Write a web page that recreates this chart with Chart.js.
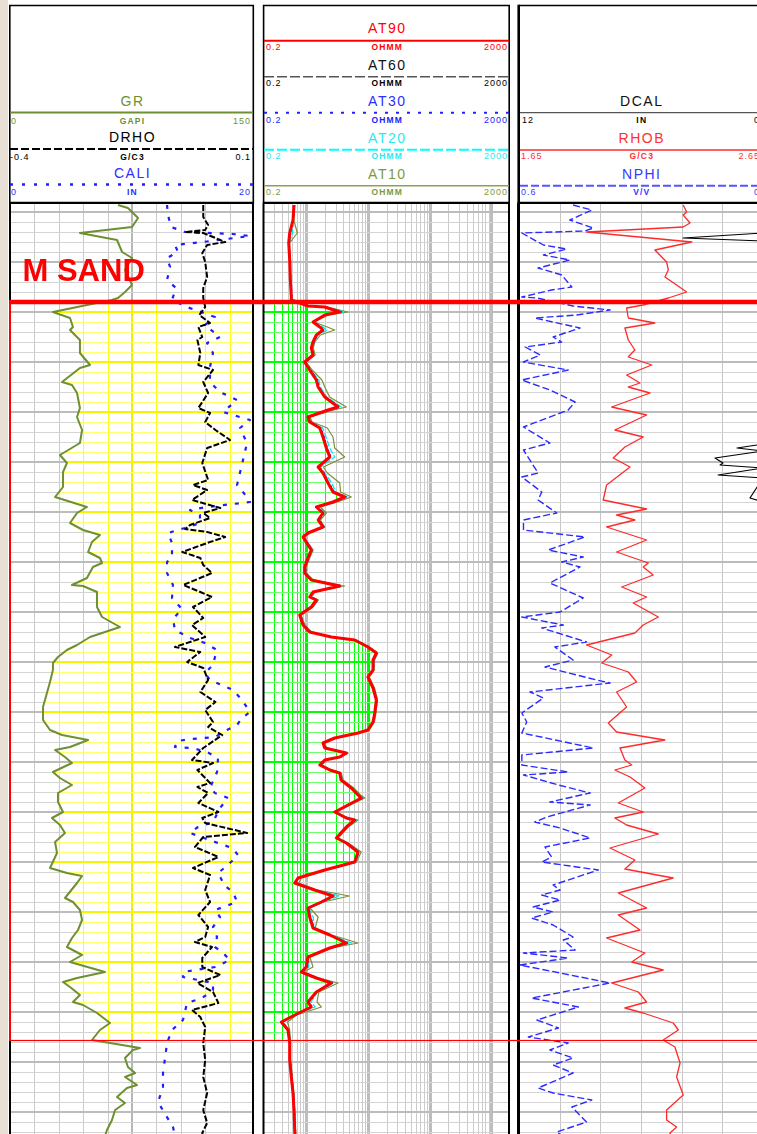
<!DOCTYPE html>
<html>
<head>
<meta charset="utf-8">
<title>M SAND well log</title>
<script src="https://cdn.jsdelivr.net/npm/chart.js@4.4.0/dist/chart.umd.min.js"></script>
<style>
  html, body { margin: 0; padding: 0; background: #fff; overflow: hidden; width: 757px; height: 1134px; }
  #strip { position: absolute; left: 0; top: 0; width: 8px; height: 1134px; background: #e8e0d4; }
  canvas { position: absolute; top: 204px; }
  #c1 { left: 0; }
  #c2 { left: 258px; }
  #c3 { left: 514px; }
  svg { position: absolute; left: 0; top: 0; }
  #zoneLabel { z-index: 5; pointer-events: none; }
</style>
</head>
<body>
<div id="strip"></div>

<svg id="hdr" width="770" height="206" font-family="'Liberation Sans', Arial, sans-serif">
  <!-- track frames -->
  <g fill="none" stroke="#000" stroke-width="1.6">
    <path d="M9.8 204 V5.5 H253.3 V204"/>
    <path d="M263.6 204 V5.5 H509.2 V204"/>
    <path d="M519 5.5 H770"/>
  </g>
  <path d="M518.7 204 V4.7" stroke="#000" stroke-width="2.6"/>
  <path d="M9 203 H254 M262.8 203 H510 M517.4 203 H770" stroke="#000" stroke-width="2.4"/>

  <!-- track 1 curve headers -->
  <g text-anchor="middle" font-size="14" letter-spacing="1.5">
    <text x="132.5" y="106" fill="#6f9030">GR</text>
    <text x="132.5" y="142" fill="#000">DRHO</text>
    <text x="132.5" y="178" fill="#2e2eff">CALI</text>
  </g>
  <path d="M10 112.5 H253" stroke="#6f9030" stroke-width="2"/>
  <path d="M10 149 H253" stroke="#000" stroke-width="2" stroke-dasharray="8 3"/>
  <path d="M10 184.5 H253" stroke="#1e1eff" stroke-width="2.5" stroke-dasharray="3 9"/>
  <g font-size="9" letter-spacing="1">
    <text x="11" y="123.5" fill="#6f9030">0</text>
    <text x="251" y="123.5" fill="#6f9030" text-anchor="end">150</text>
    <text x="10" y="159.5" fill="#000">-0.4</text>
    <text x="251" y="159.5" fill="#000" text-anchor="end">0.1</text>
    <text x="11" y="195" fill="#2e2eff">0</text>
    <text x="251" y="195" fill="#2e2eff" text-anchor="end">20</text>
  </g>
  <g font-size="8.5" font-weight="bold" text-anchor="middle" letter-spacing="1.2">
    <text x="132.5" y="123.5" fill="#6f9030">GAPI</text>
    <text x="132.5" y="159.5" fill="#000">G/C3</text>
    <text x="132.5" y="195" fill="#2e2eff">IN</text>
  </g>

  <!-- track 2 curve headers -->
  <g text-anchor="middle" font-size="14" letter-spacing="1.5">
    <text x="387.3" y="33" fill="#ff0000">AT90</text>
    <text x="387.3" y="70" fill="#111">AT60</text>
    <text x="387.3" y="106" fill="#2e2eff">AT30</text>
    <text x="387.3" y="142.5" fill="#2ee8ee">AT20</text>
    <text x="387.3" y="179.3" fill="#7d9a3a">AT10</text>
  </g>
  <path d="M264 40.7 H509" stroke="#ff0000" stroke-width="2"/>
  <path d="M264 76.7 H509" stroke="#555" stroke-width="1.6" stroke-dasharray="10 3"/>
  <path d="M264 112.7 H509" stroke="#2020ff" stroke-width="2" stroke-dasharray="3 8"/>
  <path d="M264 149.7 H509" stroke="#00ffff" stroke-width="2" stroke-dasharray="10 3"/>
  <path d="M264 185.7 H509" stroke="#8fa050" stroke-width="1.6"/>
  <g font-size="9" letter-spacing="1">
    <text x="266" y="50" fill="#ff0000">0.2</text>
    <text x="508" y="50" fill="#ff0000" text-anchor="end">2000</text>
    <text x="266" y="86" fill="#000">0.2</text>
    <text x="508" y="86" fill="#000" text-anchor="end">2000</text>
    <text x="266" y="122.5" fill="#2020ff">0.2</text>
    <text x="508" y="122.5" fill="#2020ff" text-anchor="end">2000</text>
    <text x="266" y="159" fill="#2ee8ee">0.2</text>
    <text x="508" y="159" fill="#2ee8ee" text-anchor="end">2000</text>
    <text x="266" y="195.3" fill="#7d9a3a">0.2</text>
    <text x="508" y="195.3" fill="#7d9a3a" text-anchor="end">2000</text>
  </g>
  <g font-size="8.5" font-weight="bold" text-anchor="middle" letter-spacing="1.2">
    <text x="387.3" y="50" fill="#ff0000">OHMM</text>
    <text x="387.3" y="86" fill="#000">OHMM</text>
    <text x="387.3" y="122.5" fill="#2020ff">OHMM</text>
    <text x="387.3" y="159" fill="#2ee8ee">OHMM</text>
    <text x="387.3" y="195.3" fill="#7d9a3a">OHMM</text>
  </g>

  <!-- track 3 curve headers -->
  <g text-anchor="middle" font-size="14" letter-spacing="1.5">
    <text x="641.8" y="106" fill="#111">DCAL</text>
    <text x="641.8" y="142.5" fill="#ff3030">RHOB</text>
    <text x="641.8" y="178.5" fill="#3838ff">NPHI</text>
  </g>
  <path d="M520 112.7 H770" stroke="#555" stroke-width="1.3"/>
  <path d="M520 150 H770" stroke="#ff6060" stroke-width="2"/>
  <path d="M520 185.7 H770" stroke="#5555ff" stroke-width="2" stroke-dasharray="8 3"/>
  <g font-size="9" letter-spacing="1">
    <text x="522" y="122.5" fill="#000">12</text>
    <text x="760" y="122.5" fill="#000" text-anchor="end">0</text>
    <text x="521" y="159" fill="#ff3030">1.65</text>
    <text x="760" y="159" fill="#ff3030" text-anchor="end">2.65</text>
    <text x="521" y="195" fill="#3838ff">0.6</text>
    <text x="760" y="195" fill="#3838ff" text-anchor="end">0</text>
  </g>
  <g font-size="8.5" font-weight="bold" text-anchor="middle" letter-spacing="1.2">
    <text x="641.8" y="122.5" fill="#000">IN</text>
    <text x="641.8" y="159" fill="#ff3030">G/C3</text>
    <text x="641.8" y="195" fill="#3838ff">V/V</text>
  </g>
</svg>

<canvas id="c1" width="258" height="940"></canvas>
<canvas id="c2" width="256" height="940"></canvas>
<canvas id="c3" width="256" height="940"></canvas>

<svg id="zoneLabel" width="260" height="300">
  <text x="22.5" y="281" fill="#ff0000" font-family="'Liberation Sans', Arial, sans-serif" font-weight="bold" font-size="31">M SAND</text>
</svg>

<script>
// Depth window (ft) and the M SAND zone top / base
const DEPTH_TOP = 4998.4;
const DEPTH_BASE = 5186.4;
const ZONE_TOP = 5018.0;
const ZONE_BASE = 5165.7;

// Track 1: gamma ray (GAPI)
const GR_DEPTH = [4998.6, 4999.2, 5000.6, 5001.2, 5003.0, 5004.2, 5005.6, 5008.0, 5009.2, 5011.6,
  5014.6, 5016.0, 5017.2, 5017.6, 5018.8, 5020.0, 5021.2, 5023.0, 5023.6, 5025.6,
  5028.2, 5030.6, 5031.2, 5034.0, 5034.6, 5036.2, 5039.2, 5041.0, 5043.6, 5046.2,
  5048.6, 5050.2, 5052.0, 5055.0, 5057.0, 5059.0, 5060.2, 5062.2, 5063.6, 5064.6,
  5066.0, 5068.0, 5069.2, 5070.2, 5071.0, 5073.2, 5074.6, 5074.8, 5076.0, 5079.0,
  5081.0, 5083.0, 5084.0, 5085.0, 5086.6, 5087.6, 5089.0, 5090.2, 5091.6, 5094.0,
  5096.2, 5099.0, 5101.6, 5103.6, 5104.6, 5105.6, 5107.0, 5107.6, 5109.0, 5110.2,
  5112.0, 5113.2, 5114.6, 5116.2, 5118.0, 5120.0, 5121.2, 5122.6, 5124.2, 5126.0,
  5128.2, 5131.2, 5132.2, 5132.8, 5134.2, 5137.2, 5138.0, 5139.6, 5141.6, 5143.6,
  5145.2, 5147.0, 5148.6, 5150.0, 5152.0, 5153.2, 5154.0, 5155.0, 5156.6, 5158.0,
  5158.6, 5160.2, 5162.2, 5163.6, 5165.6, 5167.2, 5167.6, 5169.2, 5171.0, 5172.2,
  5173.0, 5174.6, 5175.2, 5177.0, 5178.2, 5179.6, 5181.6, 5183.6, 5185.6];
const GR = [66.4, 72.5, 76.9, 78.7, 75.0, 43.0, 65.8, 68.9, 75.0, 70.7,
  75.0, 70.7, 66.4, 62.7, 44.3, 26.4, 36.9, 38.7, 36.9, 43.0,
  43.0, 49.2, 43.0, 32.0, 38.1, 41.2, 43.0, 41.2, 44.3, 43.0,
  30.7, 35.0, 32.6, 32.6, 27.7, 47.3, 41.2, 36.9, 44.9, 55.3,
  50.4, 48.0, 55.3, 56.6, 51.0, 47.3, 38.1, 44.9, 53.5, 53.5,
  56.6, 67.6, 58.4, 49.2, 41.2, 35.0, 29.5, 26.4, 26.4, 24.6,
  22.7, 20.3, 20.3, 24.6, 32.0, 48.0, 36.9, 27.7, 33.8, 38.1,
  26.4, 30.7, 38.1, 29.5, 29.5, 32.6, 25.8, 30.7, 33.8, 27.7,
  28.9, 24.6, 35.0, 44.3, 41.2, 33.8, 38.7, 43.0, 44.3, 41.8,
  38.1, 35.0, 44.3, 36.9, 58.4, 41.2, 32.6, 36.9, 43.0, 38.7,
  44.9, 53.5, 61.5, 55.3, 50.4, 79.9, 75.6, 70.7, 72.5, 76.9,
  70.7, 78.1, 71.9, 65.8, 70.7, 64.6, 62.7, 59.6, 57.6];

// Track 1: density correction (G/C3)
const DRHO_DEPTH = [4998.6, 5001.0, 5002.6, 5003.6, 5004.0, 5004.2, 5006.0, 5006.6, 5008.2, 5010.0,
  5013.0, 5015.2, 5017.2, 5019.0, 5020.6, 5022.2, 5023.0, 5025.0, 5025.6, 5028.2,
  5030.6, 5031.6, 5034.0, 5036.2, 5039.2, 5040.2, 5042.0, 5043.6, 5045.6, 5047.2,
  5050.2, 5053.6, 5054.6, 5055.6, 5057.6, 5059.2, 5060.2, 5061.2, 5062.6, 5063.4,
  5064.0, 5065.0, 5066.2, 5068.0, 5069.2, 5070.6, 5072.2, 5074.6, 5076.0, 5077.0,
  5079.0, 5081.2, 5082.6, 5085.0, 5087.0, 5088.0, 5090.0, 5091.2, 5093.6, 5096.0,
  5098.0, 5099.6, 5102.0, 5103.0, 5104.6, 5107.2, 5109.6, 5110.2, 5111.6, 5114.2,
  5115.0, 5116.2, 5118.2, 5120.0, 5121.2, 5122.2, 5124.2, 5125.0, 5127.0, 5129.0,
  5131.2, 5132.6, 5135.6, 5138.0, 5140.6, 5143.0, 5145.0, 5146.0, 5147.0, 5149.2,
  5151.0, 5152.6, 5154.2, 5156.0, 5158.2, 5159.6, 5161.0, 5163.0, 5166.2, 5169.6,
  5173.0, 5176.2, 5179.6, 5182.2, 5184.2, 5185.6];
const DRHO = [-0.004, -0.004, 0.006, 0.000, -0.041, -0.004, 0.041, 0.004, -0.006, 0.000,
  0.004, -0.004, -0.004, 0.000, -0.012, 0.010, -0.014, -0.006, -0.016, -0.010,
  -0.014, 0.016, -0.004, 0.006, -0.014, 0.010, 0.000, 0.021, 0.051, 0.004,
  -0.006, 0.006, -0.025, 0.004, -0.027, 0.031, -0.004, 0.010, -0.031, -0.041,
  0.004, 0.041, 0.004, -0.047, -0.010, -0.004, 0.014, -0.045, -0.010, 0.014,
  -0.025, -0.004, -0.027, 0.000, -0.062, -0.010, -0.037, -0.004, 0.006, -0.010,
  0.021, 0.000, 0.016, 0.006, 0.035, -0.004, -0.027, 0.016, -0.016, 0.010,
  -0.016, 0.006, -0.014, 0.027, -0.006, 0.000, 0.086, -0.004, -0.021, 0.027,
  -0.025, 0.010, 0.000, 0.010, -0.014, 0.006, 0.000, -0.021, 0.014, -0.006,
  -0.006, 0.031, -0.016, 0.016, 0.027, -0.027, -0.010, 0.000, -0.004, 0.000,
  -0.004, 0.004, -0.004, 0.004, -0.006, -0.002];

// Track 1: caliper (IN)
const CALI_DEPTH = [4998.6, 5000.6, 5003.0, 5004.0, 5004.4, 5004.8, 5006.0, 5006.6, 5008.0, 5009.2,
  5011.0, 5013.6, 5015.2, 5017.6, 5019.0, 5021.0, 5022.6, 5025.0, 5026.2, 5028.2,
  5031.0, 5034.0, 5036.0, 5037.6, 5040.0, 5041.6, 5043.2, 5046.2, 5049.6, 5054.6,
  5057.0, 5058.0, 5059.0, 5059.6, 5060.6, 5062.2, 5063.2, 5064.2, 5066.2, 5069.0,
  5070.0, 5072.2, 5074.6, 5077.2, 5079.4, 5081.4, 5083.6, 5085.2, 5086.2, 5087.6,
  5089.0, 5090.6, 5092.2, 5093.6, 5095.6, 5097.6, 5100.0, 5101.2, 5102.6, 5103.6,
  5105.0, 5105.4, 5105.8, 5107.0, 5107.2, 5108.0, 5109.2, 5112.0, 5115.2, 5116.2,
  5117.2, 5119.2, 5122.0, 5123.0, 5124.2, 5126.2, 5127.2, 5128.6, 5130.6, 5132.2,
  5134.8, 5136.0, 5138.0, 5139.6, 5141.0, 5143.0, 5145.0, 5147.0, 5148.2, 5149.6,
  5151.0, 5152.0, 5153.0, 5154.2, 5155.6, 5157.2, 5158.2, 5161.6, 5163.6, 5166.2,
  5169.2, 5172.2, 5175.2, 5178.0, 5180.4, 5183.0, 5185.6];
const CALI = [12.87, 12.95, 13.20, 14.34, 18.28, 19.67, 15.82, 13.52, 13.77, 12.87,
  13.12, 12.87, 13.61, 13.28, 14.51, 16.80, 15.98, 17.21, 16.15, 16.64,
  16.39, 16.39, 17.21, 18.61, 17.46, 19.67, 18.85, 19.43, 19.10, 18.61,
  19.43, 19.67, 16.15, 14.75, 15.57, 15.57, 14.34, 12.95, 13.28, 13.28,
  12.87, 12.87, 13.36, 13.28, 14.10, 13.36, 13.52, 14.75, 15.98, 16.97,
  16.80, 16.64, 15.98, 16.39, 18.28, 19.02, 19.67, 19.02, 18.61, 17.79,
  16.80, 14.92, 13.69, 13.52, 14.92, 16.15, 17.05, 16.97, 16.39, 16.80,
  17.87, 17.21, 16.64, 15.41, 14.75, 17.05, 18.20, 18.69, 17.87, 17.05,
  17.62, 18.28, 18.61, 16.80, 17.21, 16.64, 16.97, 16.80, 17.46, 18.03,
  16.80, 14.18, 14.18, 16.64, 16.64, 15.74, 14.51, 14.18, 13.28, 12.87,
  12.71, 12.54, 12.54, 12.13, 12.71, 13.36, 13.61];

// Track 2: array induction resistivities (OHMM), shared depth samples
const RES_DEPTH = [4998.6, 5001.6, 5004.2, 5006.2, 5009.6, 5013.6, 5017.0, 5017.6, 5018.8, 5019.0,
  5020.0, 5020.6, 5022.0, 5023.0, 5023.6, 5024.6, 5026.0, 5027.2, 5028.6, 5030.0,
  5031.6, 5033.6, 5035.0, 5037.0, 5039.0, 5039.6, 5041.0, 5042.0, 5043.2, 5045.0,
  5047.2, 5049.0, 5051.0, 5052.2, 5054.2, 5056.0, 5057.0, 5058.0, 5059.0, 5060.2,
  5061.6, 5063.0, 5064.2, 5065.0, 5066.0, 5067.6, 5069.2, 5071.0, 5072.2, 5073.6,
  5074.8, 5076.0, 5077.0, 5077.6, 5079.0, 5080.6, 5082.6, 5084.0, 5085.0, 5085.6,
  5087.0, 5088.2, 5089.6, 5091.6, 5093.0, 5095.2, 5097.6, 5100.2, 5102.0, 5103.6,
  5104.2, 5105.2, 5106.2, 5107.2, 5108.2, 5109.0, 5109.6, 5110.6, 5111.6, 5112.2,
  5113.6, 5115.2, 5116.6, 5117.2, 5118.6, 5120.0, 5121.2, 5121.6, 5123.0, 5125.2,
  5126.2, 5128.0, 5130.0, 5131.6, 5133.2, 5134.2, 5135.6, 5136.8, 5138.0, 5139.2,
  5141.0, 5143.2, 5144.6, 5146.2, 5147.2, 5149.0, 5151.0, 5152.0, 5153.2, 5154.2,
  5156.0, 5158.0, 5159.0, 5160.6, 5162.0, 5163.6, 5166.2, 5169.6, 5173.0, 5176.2,
  5179.6, 5183.6, 5185.6];
const AT90 = [0.635, 0.612, 0.541, 0.522, 0.541, 0.554, 0.575, 0.575, 1.07, 2.0,
  3.49, 2.0, 1.29, 1.66, 1.87, 1.46, 1.29, 1.21, 1.29, 0.947,
  1.14, 1.46, 1.56, 2.0, 3.28, 2.26, 1.07, 1.14, 1.66, 1.87,
  2.12, 2.41, 1.56, 1.87, 2.26, 2.72, 4.21, 2.72, 1.46, 1.87,
  1.56, 1.87, 1.07, 0.889, 1.0, 1.21, 1.07, 0.947, 0.947, 1.21,
  3.49, 1.29, 1.14, 1.46, 1.21, 0.786, 0.889, 1.14, 2.55, 6.11,
  10.0, 13.7, 12.1, 12.1, 10.0, 12.1, 13.7, 12.9, 12.1, 10.0,
  6.91, 2.9, 1.87, 2.0, 4.47, 3.49, 2.0, 1.66, 2.41, 3.49,
  3.67, 5.38, 6.91, 7.81, 4.76, 2.9, 4.47, 6.11, 4.47, 3.08,
  4.47, 6.91, 6.11, 2.0, 0.738, 0.652, 1.37, 2.72, 1.76, 1.07,
  1.14, 1.29, 2.41, 4.47, 2.41, 1.07, 1.0, 0.834, 1.46, 2.55,
  1.46, 1.07, 1.21, 0.652, 0.396, 0.508, 0.541, 0.541, 0.575, 0.612,
  0.635, 0.652, 0.66];
const AT60 = [0.64, 0.617, 0.55, 0.527, 0.546, 0.56, 0.58, 0.58, 1.08, 2.04,
  3.6, 2.05, 1.31, 1.7, 1.92, 1.49, 1.31, 1.23, 1.31, 0.96,
  1.16, 1.49, 1.59, 2.04, 3.38, 2.31, 1.09, 1.16, 1.7, 1.92,
  2.17, 2.48, 1.59, 1.91, 2.31, 2.8, 4.33, 2.78, 1.49, 1.91,
  1.59, 1.91, 1.09, 0.9, 1.01, 1.23, 1.09, 0.96, 0.96, 1.23,
  3.58, 1.31, 1.16, 1.49, 1.23, 0.79, 0.9, 1.16, 2.6, 6.2,
  10.1, 13.9, 12.2, 12.2, 10.1, 12.2, 13.8, 13.0, 12.2, 10.1,
  7.0, 2.95, 1.9, 2.04, 4.55, 3.55, 2.04, 1.69, 2.46, 3.55,
  3.73, 5.47, 7.02, 7.95, 4.85, 2.95, 4.55, 6.2, 4.55, 3.13,
  4.55, 7.02, 6.2, 2.04, 0.75, 0.66, 1.39, 2.8, 1.79, 1.09,
  1.16, 1.31, 2.46, 4.6, 2.46, 1.09, 1.02, 0.845, 1.48, 2.6,
  1.48, 1.09, 1.23, 0.66, 0.4, 0.515, 0.548, 0.548, 0.582, 0.62,
  0.643, 0.66, 0.668];
const AT30 = [0.645, 0.62, 0.555, 0.53, 0.55, 0.563, 0.585, 0.585, 1.1, 2.07,
  3.7, 2.08, 1.33, 1.73, 1.95, 1.51, 1.33, 1.25, 1.33, 0.98,
  1.18, 1.52, 1.62, 2.07, 3.45, 2.35, 1.1, 1.18, 1.73, 1.95,
  2.2, 2.52, 1.62, 1.94, 2.35, 2.84, 4.42, 2.82, 1.52, 1.94,
  1.62, 1.94, 1.1, 0.92, 1.03, 1.25, 1.1, 0.98, 0.98, 1.25,
  3.65, 1.33, 1.18, 1.52, 1.25, 0.81, 0.92, 1.18, 2.65, 6.3,
  10.3, 14.0, 12.4, 12.3, 10.2, 12.3, 14.0, 13.1, 12.3, 10.2,
  7.05, 3.0, 1.93, 2.07, 4.6, 3.6, 2.07, 1.72, 2.5, 3.6,
  3.78, 5.55, 7.1, 8.05, 4.9, 3.0, 4.6, 6.3, 4.6, 3.17,
  4.6, 7.1, 6.3, 2.07, 0.76, 0.67, 1.41, 2.85, 1.82, 1.1,
  1.18, 1.33, 2.5, 4.65, 2.5, 1.1, 1.04, 0.86, 1.5, 2.65,
  1.5, 1.1, 1.25, 0.67, 0.41, 0.52, 0.553, 0.553, 0.587, 0.625,
  0.648, 0.665, 0.672];
const AT20 = [0.64, 0.62, 0.6, 0.53, 0.545, 0.557, 0.578, 0.58, 1.1, 2.1,
  4.2, 2.15, 1.32, 1.85, 2.2, 1.55, 1.33, 1.25, 1.33, 0.97,
  1.18, 1.6, 1.7, 2.15, 3.7, 2.45, 1.1, 1.18, 1.85, 2.1,
  2.4, 2.9, 1.7, 2.0, 2.6, 3.0, 4.6, 2.9, 1.55, 1.95,
  1.6, 1.92, 1.1, 0.9, 1.02, 1.25, 1.1, 0.97, 0.97, 1.25,
  3.8, 1.33, 1.17, 1.5, 1.25, 0.8, 0.91, 1.17, 2.65, 6.3,
  10.3, 14.1, 12.4, 12.3, 10.2, 12.4, 14.0, 13.2, 12.4, 10.3,
  7.1, 3.0, 1.93, 2.07, 4.6, 3.55, 2.07, 1.72, 2.5, 3.58,
  3.8, 5.6, 7.2, 8.3, 4.95, 3.0, 4.6, 6.5, 4.6, 3.18,
  4.6, 7.3, 6.3, 2.07, 0.78, 0.7, 1.42, 3.5, 1.82, 1.1,
  1.3, 1.33, 2.5, 5.4, 2.5, 1.1, 1.1, 0.86, 1.52, 2.8,
  1.52, 1.2, 1.4, 0.67, 0.43, 0.52, 0.55, 0.55, 0.585, 0.62,
  0.642, 0.66, 0.67];
const AT10 = [0.65, 0.63, 0.72, 0.54, 0.55, 0.56, 0.58, 0.59, 1.12, 2.2,
  4.76, 2.3, 1.35, 2.2, 2.9, 1.7, 1.38, 1.3, 1.4, 1.0,
  1.25, 1.8, 2.0, 2.4, 4.47, 2.8, 1.15, 1.25, 2.2, 2.72,
  2.9, 4.21, 1.9, 2.2, 3.5, 3.6, 5.38, 3.2, 1.7, 2.12,
  1.7, 2.0, 1.15, 0.93, 1.05, 1.3, 1.14, 1.0, 1.0, 1.3,
  4.2, 1.4, 1.22, 1.58, 1.3, 0.83, 0.95, 1.22, 2.8, 6.5,
  10.5, 14.5, 12.8, 12.6, 10.5, 12.8, 14.3, 13.5, 12.7, 10.6,
  7.3, 3.1, 2.0, 2.15, 4.76, 3.7, 2.15, 1.8, 2.6, 3.7,
  3.95, 5.9, 7.6, 8.9, 5.2, 3.1, 4.8, 6.91, 4.8, 3.3,
  4.8, 7.81, 6.5, 2.15, 0.834, 0.76, 1.5, 5.0, 1.9, 1.15,
  1.56, 1.4, 2.6, 6.91, 2.6, 1.15, 1.29, 0.9, 1.6, 3.28,
  1.6, 1.5, 1.76, 0.7, 0.5, 0.54, 0.56, 0.56, 0.59, 0.63,
  0.65, 0.67, 0.68];

// Track 3: neutron porosity (V/V)
const NPHI_DEPTH = [4998.6, 4999.6, 5001.6, 5003.2, 5003.8, 5004.2, 5006.6, 5007.4, 5008.6, 5009.6,
  5011.2, 5012.6, 5015.0, 5015.6, 5017.0, 5017.2, 5018.8, 5019.6, 5020.6, 5021.2,
  5023.2, 5025.0, 5026.0, 5027.0, 5028.6, 5030.0, 5031.6, 5033.6, 5035.6, 5038.0,
  5039.6, 5043.0, 5046.2, 5047.6, 5052.2, 5053.0, 5056.0, 5057.6, 5060.2, 5061.6,
  5063.6, 5065.0, 5067.6, 5069.0, 5070.0, 5071.0, 5074.2, 5077.2, 5080.0, 5081.0,
  5082.6, 5083.2, 5086.0, 5087.0, 5089.6, 5091.0, 5093.6, 5094.2, 5096.0, 5097.2,
  5100.2, 5102.0, 5104.2, 5107.2, 5108.6, 5110.6, 5112.0, 5112.6, 5114.6, 5116.2,
  5118.0, 5118.6, 5121.0, 5122.0, 5123.2, 5125.2, 5127.0, 5129.0, 5130.0, 5131.6,
  5134.6, 5135.6, 5136.6, 5137.6, 5139.0, 5140.0, 5141.2, 5142.6, 5145.0, 5145.6,
  5147.6, 5148.2, 5149.2, 5150.6, 5152.2, 5154.2, 5157.2, 5159.0, 5161.6, 5163.2,
  5165.0, 5166.2, 5167.6, 5169.2, 5170.6, 5172.2, 5175.2, 5176.2, 5177.6, 5179.0,
  5182.0, 5184.0, 5185.6];
const NPHI = [0.467, 0.421, 0.475, 0.417, 0.438, 0.593, 0.540, 0.483, 0.540, 0.475,
  0.553, 0.495, 0.470, 0.520, 0.593, 0.556, 0.467, 0.376, 0.458, 0.561,
  0.450, 0.516, 0.495, 0.585, 0.548, 0.589, 0.479, 0.593, 0.524, 0.462,
  0.479, 0.589, 0.524, 0.589, 0.553, 0.593, 0.544, 0.553, 0.507, 0.589,
  0.589, 0.438, 0.528, 0.442, 0.495, 0.450, 0.524, 0.442, 0.499, 0.593,
  0.491, 0.544, 0.434, 0.512, 0.467, 0.536, 0.409, 0.376, 0.573, 0.540,
  0.593, 0.581, 0.593, 0.417, 0.593, 0.593, 0.479, 0.589, 0.503, 0.425,
  0.524, 0.425, 0.532, 0.561, 0.499, 0.425, 0.536, 0.520, 0.544, 0.405,
  0.516, 0.499, 0.544, 0.499, 0.565, 0.516, 0.569, 0.516, 0.467, 0.491,
  0.462, 0.589, 0.479, 0.598, 0.499, 0.376, 0.569, 0.454, 0.556, 0.503,
  0.577, 0.479, 0.524, 0.467, 0.516, 0.467, 0.553, 0.516, 0.421, 0.470,
  0.434, 0.507, 0.480];

// Track 3: bulk density (G/C3)
const RHOB_DEPTH = [4998.6, 5000.0, 5000.6, 5002.2, 5003.0, 5004.0, 5006.0, 5007.6, 5010.0, 5011.6,
  5013.0, 5014.6, 5016.0, 5017.2, 5018.6, 5019.2, 5021.2, 5022.2, 5023.2, 5025.6,
  5027.6, 5028.6, 5029.0, 5030.6, 5032.6, 5034.2, 5035.0, 5036.2, 5039.0, 5040.6,
  5043.6, 5045.0, 5047.0, 5049.2, 5051.0, 5054.6, 5057.6, 5059.4, 5060.6, 5061.6,
  5063.0, 5065.6, 5068.0, 5070.2, 5071.0, 5072.6, 5075.0, 5077.0, 5078.2, 5081.0,
  5082.6, 5084.2, 5086.6, 5088.6, 5090.2, 5092.0, 5094.0, 5096.0, 5099.0, 5102.2,
  5104.0, 5105.6, 5107.2, 5109.6, 5110.6, 5111.6, 5113.0, 5115.2, 5118.2, 5120.0,
  5121.2, 5122.6, 5124.4, 5127.2, 5129.6, 5131.4, 5133.2, 5136.2, 5139.2, 5140.6,
  5143.6, 5145.2, 5148.2, 5150.0, 5151.6, 5154.2, 5156.0, 5158.0, 5159.2, 5160.2,
  5162.2, 5163.6, 5165.6, 5167.0, 5170.2, 5173.0, 5176.6, 5179.6, 5181.6, 5183.0,
  5184.2, 5185.6];
const RHOB = [2.323, 2.337, 2.323, 2.351, 2.323, 1.927, 2.358, 2.207, 2.255, 2.262,
  2.248, 2.296, 2.337, 2.262, 2.159, 2.091, 2.098, 2.207, 2.084, 2.098,
  2.125, 2.105, 2.098, 2.194, 2.091, 2.146, 2.098, 2.187, 2.030, 2.173,
  2.043, 2.159, 2.084, 2.036, 2.105, 2.009, 1.995, 2.173, 2.050, 2.125,
  2.009, 2.173, 2.050, 2.180, 2.159, 2.200, 2.071, 2.173, 2.118, 2.221,
  2.159, 2.125, 1.927, 2.030, 1.989, 2.098, 2.132, 2.050, 2.091, 2.016,
  2.050, 2.248, 2.064, 2.084, 2.112, 2.043, 2.105, 2.166, 2.057, 2.159,
  2.043, 2.091, 2.221, 2.023, 2.125, 2.084, 2.282, 2.057, 2.173, 2.057,
  2.146, 2.009, 2.166, 2.112, 2.241, 2.030, 2.139, 2.173, 2.084, 2.159,
  2.282, 2.303, 2.241, 2.289, 2.310, 2.296, 2.323, 2.255, 2.255, 2.296,
  2.269, 2.270];

// Track 3: density caliper (IN)
const DCAL_DEPTH = [4998.6, 5004.2, 5005.2, 5005.8, 5045.6, 5046.6, 5047.2, 5047.8, 5049.2, 5050.2,
  5050.6, 5051.2, 5052.6, 5053.2, 5057.2, 5058.0, 5185.6];
const DCAL = [0.0, 0.0, 3.93, 0.0, 0.0, 0.30, 1.28, 0.0, 2.36, 1.97,
  2.11, 0.0, 2.21, 0.0, 0.64, 0.0, 0.0];

// ---------- helpers ----------
const toPoints = (depths, vals) => depths.map((d, i) => ({ x: vals[i], y: d }));

function curve(label, depths, vals, axis, color, width, dash) {
  return {
    label, data: toPoints(depths, vals), xAxisID: axis, yAxisID: 'y',
    showLine: true, borderColor: color, backgroundColor: color,
    borderWidth: width, borderDash: dash || [], borderJoinStyle: 'round',
    pointRadius: 0, pointHoverRadius: 0, tension: 0, fill: false, clip: 0
  };
}

function depthTicks() {
  const t = [];
  for (let d = Math.ceil(DEPTH_TOP / 2) * 2; d <= DEPTH_BASE; d += 2) t.push(d);
  return t;
}

function logLines(min, max) {
  const v = [];
  for (let e = -1; e <= 3; e++) {
    for (let m = 1; m <= 9; m++) {
      const x = m * Math.pow(10, e);
      if (x > min * 1.0001 && x < max * 0.9999) v.push(x);
    }
  }
  return v;
}

const GRAY = { v: '#c9c9c9', vBold: '#b6b6b6', hMinor: '#d4d4d4', hMajor: '#bcbcbc' };
const YELLOW = { v: '#ffff00', vBold: '#f0f000', hMinor: '#ffff70', hMajor: '#f5f500' };
const GREEN = { v: '#00ff00', vBold: '#00f000', hMinor: '#6cff6c', hMajor: '#00ff00' };

function strokeV(ctx, x, top, bottom, w) {
  const off = (Math.round(w) % 2 === 1) ? 0.5 : 0;
  const xx = Math.round(x) + off;
  ctx.lineWidth = w;
  ctx.beginPath(); ctx.moveTo(xx, top); ctx.lineTo(xx, bottom); ctx.stroke();
}

function drawGrid(ctx, a, xs, ys, o, pal) {
  o.vLines.forEach(v => {
    const bold = o.isBold(v);
    ctx.strokeStyle = bold ? pal.vBold : pal.v;
    strokeV(ctx, xs.getPixelForValue(v), a.top, a.bottom, bold ? o.boldWidth : o.vWidth);
  });
  depthTicks().forEach(d => {
    const major = d % 10 === 0;
    const y = Math.round(ys.getPixelForValue(d));
    ctx.strokeStyle = major ? pal.hMajor : pal.hMinor;
    ctx.lineWidth = major ? 2 : 1;
    const yy = major ? y : y + 0.5;
    ctx.beginPath(); ctx.moveTo(a.left, yy); ctx.lineTo(a.right, yy); ctx.stroke();
  });
}

function zonePath(ctx, pts, edgeX, y0, y1) {
  const xAt = y => {
    for (let i = 1; i < pts.length; i++) {
      const p = pts[i - 1], q = pts[i];
      if (y >= p.y && y <= q.y) {
        const t = q.y === p.y ? 0 : (y - p.y) / (q.y - p.y);
        return p.x + t * (q.x - p.x);
      }
    }
    return pts[pts.length - 1].x;
  };
  ctx.beginPath();
  ctx.moveTo(edgeX, y0);
  ctx.lineTo(xAt(y0), y0);
  pts.forEach(p => { if (p.y > y0 && p.y < y1) ctx.lineTo(p.x, p.y); });
  ctx.lineTo(xAt(y1), y1);
  ctx.lineTo(edgeX, y1);
  ctx.closePath();
}

// Per-track drawing: grid, lithology shading, frame and zone markers
function trackPlugin(o) {
  return {
    id: 'track_' + o.name,
    beforeDatasetsDraw(chart) {
      const ctx = chart.ctx, a = chart.chartArea, ys = chart.scales.y, xs = chart.scales[o.gridAxis];
      ctx.save();
      ctx.fillStyle = '#fff';
      ctx.fillRect(a.left, a.top, a.right - a.left, a.bottom - a.top);
      drawGrid(ctx, a, xs, ys, o, o.palette || GRAY);
      if (o.fill) {
        const pts = chart.getDatasetMeta(o.fill.dataset).data.map(e => ({ x: e.x, y: e.y }));
        const edge = o.fill.side === 'right' ? a.right : a.left;
        zonePath(ctx, pts, edge, ys.getPixelForValue(ZONE_TOP), ys.getPixelForValue(ZONE_BASE));
        ctx.clip();
        ctx.fillStyle = '#fff';
        ctx.fillRect(a.left, a.top, a.right - a.left, a.bottom - a.top);
        drawGrid(ctx, a, xs, ys, o, o.fill.palette);
      }
      ctx.restore();
    },
    afterDatasetsDraw(chart) {
      const ctx = chart.ctx, a = chart.chartArea, ys = chart.scales.y;
      const yT = ys.getPixelForValue(ZONE_TOP), yB = ys.getPixelForValue(ZONE_BASE);
      ctx.save();
      ctx.fillStyle = '#000';
      ctx.fillRect(a.left + o.borderL[0], a.top, o.borderL[1], a.bottom - a.top);
      ctx.fillRect(a.right + o.borderR[0], a.top, o.borderR[1], a.bottom - a.top);
      const x0 = o.first ? a.left - 1 : 0;
      ctx.fillStyle = '#ff0000';
      if (o.first) ctx.fillRect(a.left - 1, yT, 2, yB - yT);
      ctx.fillRect(x0, yT - 2.25, chart.width - x0, 4.5);
      ctx.fillRect(x0, yB - 0.6, chart.width - x0, 1.2);
      ctx.restore();
    }
  };
}

function options(xScales, padL, padR) {
  return {
    responsive: false, animation: false, events: [], devicePixelRatio: 1,
    layout: { padding: { left: padL, right: padR, top: 0, bottom: 0 } },
    scales: Object.assign({
      x: { type: 'linear', display: false },
      y: { type: 'linear', reverse: true, min: DEPTH_TOP, max: DEPTH_BASE, display: false }
    }, xScales),
    plugins: { legend: { display: false }, tooltip: { enabled: false } }
  };
}

Chart.defaults.font.family = "'Liberation Sans', Arial, sans-serif";

// Track 1: GR / DRHO / CALI
new Chart(document.getElementById('c1'), {
  type: 'scatter',
  data: { datasets: [
    curve('GR', GR_DEPTH, GR, 'xGR', '#6f9030', 2),
    curve('DRHO', DRHO_DEPTH, DRHO, 'xDRHO', '#000000', 2, [6, 2]),
    curve('CALI', CALI_DEPTH, CALI, 'xCALI', '#1e1eff', 2.2, [4, 8])
  ] },
  options: options({
    xGR: { axis: 'x', type: 'linear', min: 0, max: 150, display: false },
    xDRHO: { axis: 'x', type: 'linear', min: -0.4, max: 0.1, display: false },
    xCALI: { axis: 'x', type: 'linear', min: 0, max: 20, display: false }
  }, 10, 4),
  plugins: [trackPlugin({
    name: 't1', first: true, gridAxis: 'xGR',
    vLines: [15, 30, 45, 60, 75, 90, 105, 120, 135],
    isBold: v => v === 75, boldWidth: 2, vWidth: 1,
    fill: { dataset: 0, side: 'right', palette: YELLOW },
    borderL: [-1, 2], borderR: [-2, 2]
  })]
});

// Track 2: resistivity, logarithmic 0.2 - 2000
new Chart(document.getElementById('c2'), {
  type: 'scatter',
  data: { datasets: [
    curve('AT90', RES_DEPTH, AT90, 'xRes', '#ff0000', 3),
    curve('AT60', RES_DEPTH, AT60, 'xRes', '#111111', 1.2, [6, 3]),
    curve('AT30', RES_DEPTH, AT30, 'xRes', '#1e1eff', 1.5, [2, 3]),
    curve('AT20', RES_DEPTH, AT20, 'xRes', '#00e8f0', 1.3, [6, 2]),
    curve('AT10', RES_DEPTH, AT10, 'xRes', '#7d8f3a', 1.2)
  ] },
  options: options({
    xRes: { axis: 'x', type: 'logarithmic', min: 0.2, max: 2000, display: false }
  }, 5, 4),
  plugins: [trackPlugin({
    name: 't2', gridAxis: 'xRes',
    vLines: logLines(0.2, 2000),
    isBold: v => Math.abs(Math.log10(v) - Math.round(Math.log10(v))) < 1e-9,
    boldWidth: 3, vWidth: 1,
    palette: { v: '#cbcbcb', vBold: '#bdbdbd', hMinor: '#d4d4d4', hMajor: '#bcbcbc' },
    fill: { dataset: 0, side: 'left', palette: GREEN },
    borderL: [-0.5, 2], borderR: [-2, 2]
  })]
});

// Track 3: DCAL / RHOB / NPHI
new Chart(document.getElementById('c3'), {
  type: 'scatter',
  data: { datasets: [
    curve('DCAL', DCAL_DEPTH, DCAL, 'xDCAL', '#000000', 1.2),
    curve('RHOB', RHOB_DEPTH, RHOB, 'xRHOB', '#ff2a2a', 1.3),
    curve('NPHI', NPHI_DEPTH, NPHI, 'xNPHI', '#2b2bff', 1.4, [7, 3])
  ] },
  options: options({
    xNPHI: { axis: 'x', type: 'linear', min: 0, max: 0.6, reverse: true, display: false },
    xRHOB: { axis: 'x', type: 'linear', min: 1.65, max: 2.65, display: false },
    xDCAL: { axis: 'x', type: 'linear', min: 0, max: 12, reverse: true, display: false }
  }, 5, 7),
  plugins: [trackPlugin({
    name: 't3', gridAxis: 'xNPHI',
    vLines: [0.5, 0.4, 0.3, 0.2, 0.1],
    isBold: () => false, boldWidth: 1, vWidth: 1,
    palette: { v: '#c6c6c6', vBold: '#c6c6c6', hMinor: '#d4d4d4', hMajor: '#bcbcbc' },
    borderL: [-2, 3], borderR: [-2, 2]
  })]
});
</script>
</body>
</html>
